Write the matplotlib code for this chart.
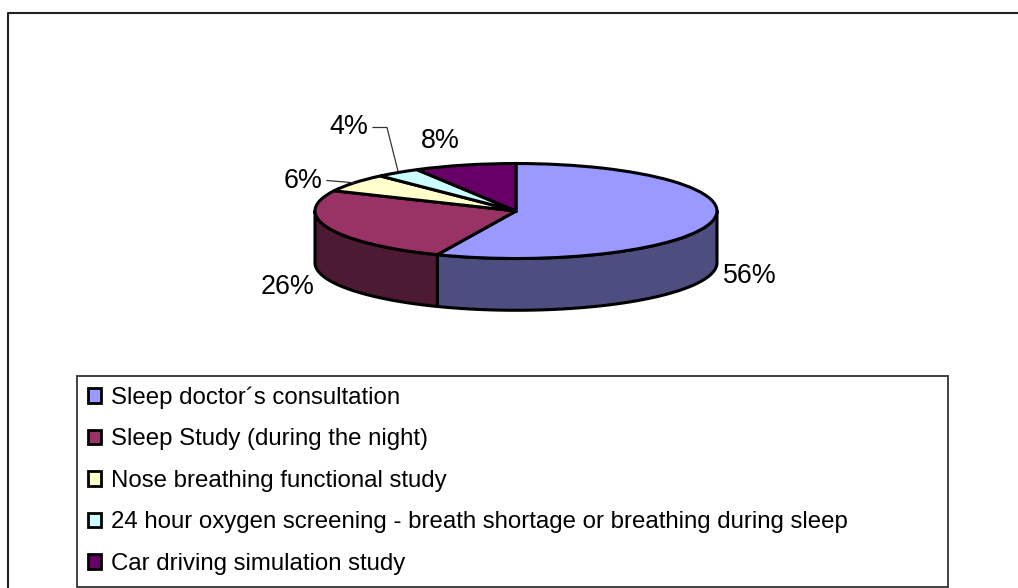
import matplotlib
matplotlib.use('Agg')
import matplotlib.pyplot as plt
from matplotlib.patches import Rectangle
import numpy as np

# values in percent, clockwise from 12 o'clock
labels = ['Sleep doctor´s consultation',
          'Sleep Study (during the night)',
          'Nose breathing functional study',
          '24 hour oxygen screening - breath shortage or breathing during sleep',
          'Car driving simulation study']
values = [56.4, 25.6, 6.2, 3.6, 8.2]
pct_labels = ['56%', '26%', '6%', '4%', '8%']
colors = ['#9999FF', '#993366', '#FFFFCC', '#CCFFFF', '#660066']
side_colors = ['#4D4D80', '#4D1A33', '#808066', '#668080', '#330033']

W, H = 1018, 588
plt.rcParams['font.family'] = ['Liberation Sans', 'DejaVu Sans']
fig = plt.figure(figsize=(W / 100, H / 100), dpi=100)
fig.patch.set_facecolor('white')

# background axes in pixel coordinates, for frames and text
bg = fig.add_axes([0, 0, 1, 1])
bg.set_xlim(0, W)
bg.set_ylim(H, 0)
bg.axis('off')
bg.plot([8.5, 8.5, W + 5], [H + 5, 12.5, 12.5], color='#222222', lw=1.5)
bg.add_patch(Rectangle((77.5, 375.5), 870.5, 211.5, fc='white', ec='#333333', lw=1.3))

# pie axes: one x unit is rx pixels, one y unit is ry pixels (depth = 1 unit)
cx, cy, rx, ry = 516, 211, 201, 47.5
depth = 1.09
xl, yt, yb = 1.5, 1.5, 2.5
left = (cx - xl * rx) / W
bottom = 1 - (cy + yb * ry) / H
ax = fig.add_axes([left, bottom, 2 * xl * rx / W, (yt + yb) * ry / H])
ax.patch.set_alpha(0)
wedges, _ = ax.pie(values, colors=colors, startangle=90, counterclock=False,
                   wedgeprops={'edgecolor': 'black', 'linewidth': 2.2, 'zorder': 3})
ax.set_aspect('auto')
ax.set_xlim(-xl, xl)
ax.set_ylim(-yb, yt)
ax.axis('off')

# side walls of the slices on the front half
edges = np.cumsum([0] + values) / sum(values) * 2 * np.pi
for i in range(len(values)):
    a = max(edges[i], np.pi / 2)
    b = min(edges[i + 1], 3 * np.pi / 2)
    if a >= b:
        continue
    t = np.linspace(a, b, 80)
    x = np.sin(t)
    y = np.cos(t)
    ax.fill(np.r_[x, x[::-1]], np.r_[y, y[::-1] - depth], fc=side_colors[i],
            ec='black', lw=2.2, zorder=2, joinstyle='round')

# percent labels, in pixels
mids = (edges[:-1] + edges[1:]) / 2
label_pos = [(749.5, 276), (287.5, 287), (303, 181), (349, 127), (440, 141)]
for s, (px, py) in zip(pct_labels, label_pos):
    bg.text(px, py, s, fontsize=19.4, ha='center', va='center', color='black', zorder=5)

# leader lines for the two small slices
ax6 = (cx + rx * np.sin(mids[2]), cy - ry * np.cos(mids[2]))
ax4 = (cx + rx * np.sin(mids[3]), cy - ry * np.cos(mids[3]))
lead = fig.add_axes([0, 0, 1, 1])
lead.set_xlim(0, W)
lead.set_ylim(H, 0)
lead.axis('off')
lead.plot([327, ax6[0]], [180.5, ax6[1]], color='#333333', lw=0.9)
lead.plot([373, 387, ax4[0]], [127.5, 127.5, ax4[1] - 2], color='#333333', lw=0.9)

# legend with square keys
leg = fig.legend(wedges, labels, loc='upper left', bbox_to_anchor=(88 / W, 1 - 386.5 / H),
                 frameon=False, fontsize=17.3, handlelength=0.55, handleheight=0.55,
                 handletextpad=0.42, labelspacing=0.81, borderpad=0, borderaxespad=0)
for h in leg.get_patches():
    h.set_linewidth(2)
    h.set_edgecolor('black')

fig.savefig('out.png', dpi=100, facecolor='white')
